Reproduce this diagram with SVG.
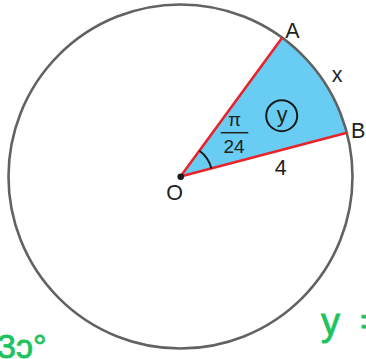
<svg xmlns="http://www.w3.org/2000/svg" width="366" height="359" viewBox="0 0 366 359">
<style>
.lbl{font-family:"Liberation Sans",Arial,sans-serif;font-size:21.5px;fill:#222}
.frac{font-family:"Liberation Sans",Arial,sans-serif;font-size:19px;fill:#222}
.hand{font-family:"Liberation Sans",Arial,sans-serif;fill:#1dc45e;stroke:#1dc45e;stroke-width:0.8}
.red{stroke:#e8232a;stroke-width:2.6;fill:none;stroke-linecap:round}
</style>
<rect width="366" height="359" fill="#fff"/>
<g id="sector">
<path d="M180.5 176.5 L282.1 37.7 A172 172 0 0 1 346.9 132.9 Z" fill="#69cdf3"/>
</g>
<g id="circle">
<circle cx="180.5" cy="176.5" r="172" fill="none" stroke="#626262" stroke-width="2.6"/>
</g>
<g id="connectors">
<line class="red" x1="180.5" y1="176.5" x2="281.6" y2="38.5"/>
<line class="red" x1="180.5" y1="176.5" x2="346" y2="133"/>
<path d="M199.5 150.7 A32 32 0 0 1 211.4 168.4" fill="none" stroke="#1a1a1a" stroke-width="2"/>
</g>
<g id="O">
<circle cx="180.7" cy="176.7" r="3.3" fill="#1a1a1a"/>
<text class="lbl" x="174.5" y="199.5" text-anchor="middle">O</text>
</g>
<g id="A"><text class="lbl" x="292.5" y="38.3" text-anchor="middle">A</text></g>
<g id="B"><text class="lbl" x="351" y="138.3">B</text></g>
<g id="x"><text class="lbl" x="337.2" y="81.7" text-anchor="middle">x</text></g>
<g id="r4"><text class="lbl" x="280.7" y="175" text-anchor="middle">4</text></g>
<g id="y">
<circle cx="281.7" cy="115.7" r="15.5" fill="none" stroke="#1a1a1a" stroke-width="2"/>
<text class="lbl" x="282" y="122" text-anchor="middle">y</text>
</g>
<g id="angle">
<text class="frac" x="234.5" y="125.5" text-anchor="middle">π</text>
<line x1="220.7" y1="132.7" x2="248.3" y2="132.7" stroke="#222" stroke-width="1.5"/>
<text class="frac" x="234" y="153.3" text-anchor="middle">24</text>
</g>
<g id="handwriting">
<text class="hand" x="-3" y="358" font-size="34">3ɔ°</text>
<text class="hand" x="321" y="335" font-size="38">y<tspan x="360">=</tspan></text>
</g>
</svg>
